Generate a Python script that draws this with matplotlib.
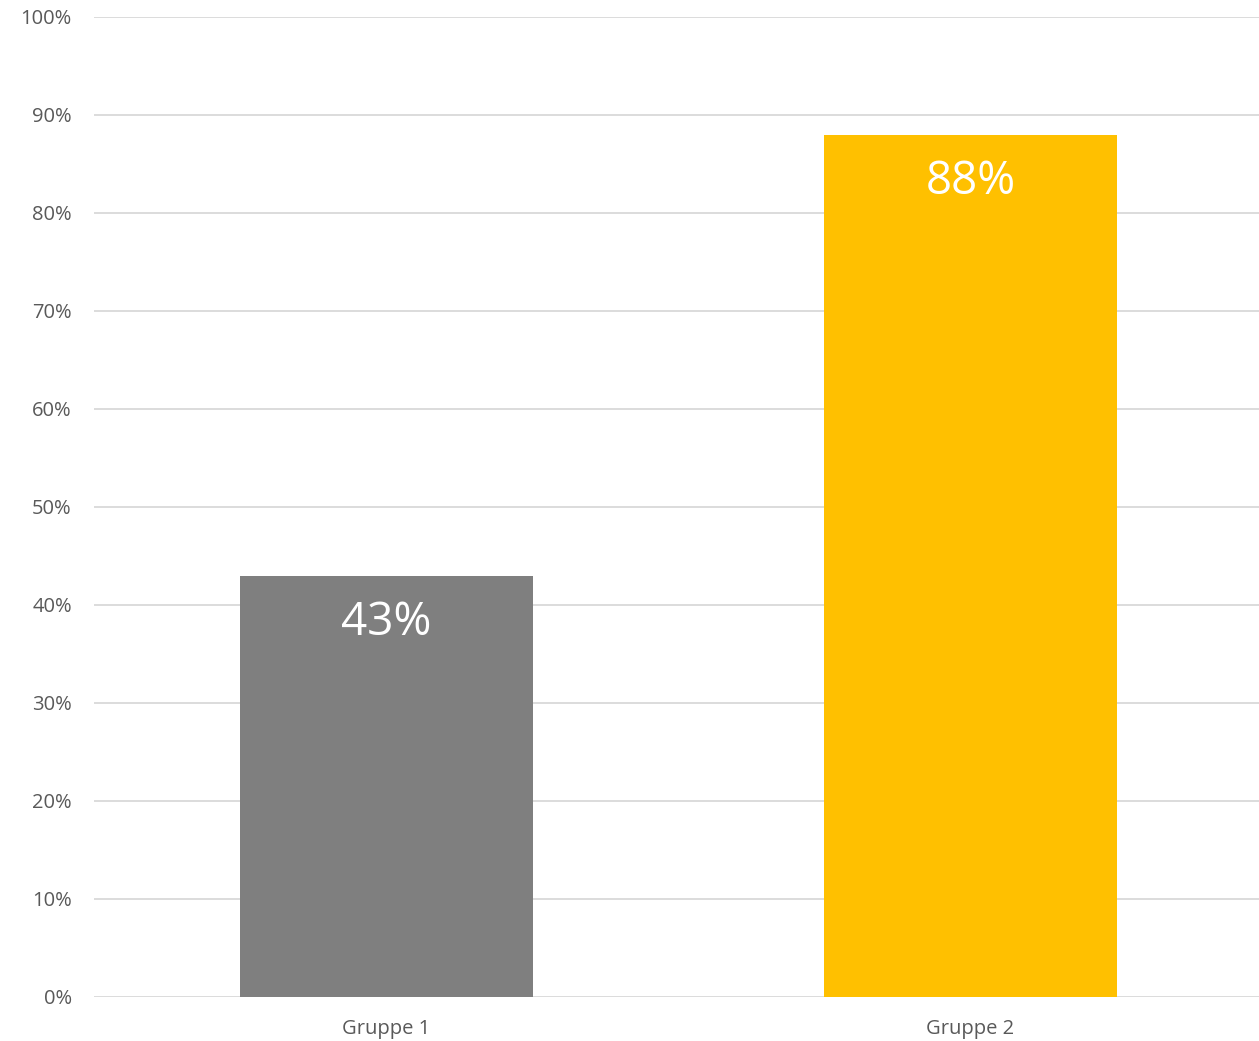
import matplotlib
matplotlib.use("Agg")
import matplotlib.pyplot as plt
from matplotlib.ticker import PercentFormatter

# data
groups = ["Gruppe 1", "Gruppe 2"]
values = [43, 88]
bar_colors = ["#7F7F7F", "#FFC000"]
yticks = list(range(0, 101, 10))

plt.rcParams["font.family"] = ["Open Sans", "DejaVu Sans"]

fig = plt.figure(figsize=(12.59, 10.41), dpi=100)
ax = fig.add_axes([0.0747, 0.0423, 0.9253, 0.9414])

x = list(range(len(groups)))
bars = ax.bar(x, values, width=0.502, color=bar_colors, zorder=2)

for b, v in zip(bars, values):
    ax.annotate(f"{v}%", xy=(b.get_x() + b.get_width() / 2, v),
                xytext=(0, -34), textcoords="offset points",
                ha="center", va="center", color="white", fontsize=33)

ax.set_xlim(-0.501, 1.494)
ax.set_ylim(0, 100)
ax.set_yticks(yticks)
ax.yaxis.set_major_formatter(PercentFormatter(decimals=0))
ax.set_xticks(x)
ax.set_xticklabels(groups)
ax.grid(axis="y", color="#D9D9D9", linewidth=1.3, zorder=0)
ax.tick_params(axis="both", length=0, colors="#595959", labelsize=14.5)
ax.tick_params(axis="y", pad=16)
ax.tick_params(axis="x", pad=16)
for s in ax.spines.values():
    s.set_visible(False)

fig.savefig("out.png", dpi=100)
